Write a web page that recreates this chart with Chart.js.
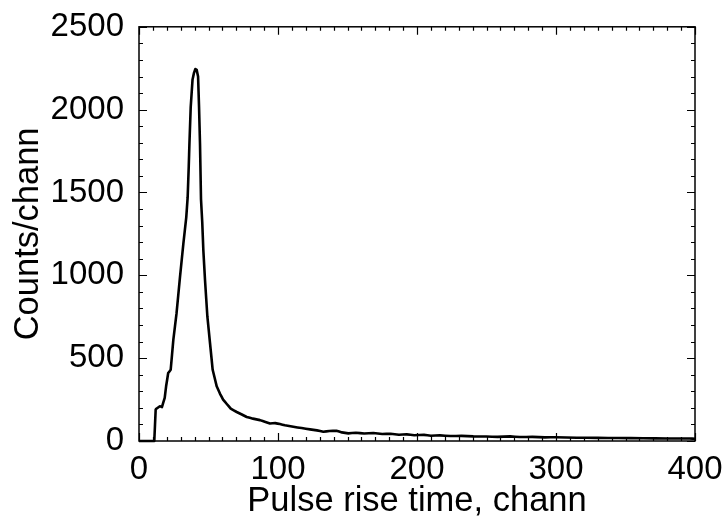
<!DOCTYPE html>
<html>
<head>
<meta charset="utf-8">
<script src="https://cdn.jsdelivr.net/npm/chart.js@4/dist/chart.umd.min.js"></script>
<style>
  html, body { margin: 0; padding: 0; background: #fff; }
  #wrap { width: 726px; height: 529px; }
</style>
</head>
<body>
<div id="wrap"><canvas id="riseChart" width="726" height="529"></canvas></div>
<script>
// rise time channel -> counts per channel
const channels = [0, 11, 12, 12.5, 15, 16.5, 18.5, 19.5, 21, 22.8, 24.7, 27, 29.5, 31.9, 34, 35, 35.8,
  36.3, 37.2, 38.5, 39.5, 40.5, 41.5, 42.5, 43.2, 43.9, 44.6, 45.5, 46.3, 47.5, 49.2, 51.1, 53, 55.9,
  58.3, 60.5, 63, 66, 70.3, 74, 77.5, 82, 87, 91, 94.2, 98, 101.4, 105, 111, 117, 123, 128, 132.6,
  137, 142, 146, 150.6, 156, 162, 168.6, 175, 181, 187, 192.6, 198, 205, 210, 216.5, 224, 232,
  240.5, 250, 258, 267, 274, 283, 292, 300, 315, 330, 345, 362.6, 380, 396, 400];
const counts = [0, 0, 190, 195, 210, 205, 260, 330, 410, 430, 610, 770, 990, 1190, 1350, 1470, 1660,
  1800, 2015, 2180, 2220, 2245, 2240, 2200, 2015, 1790, 1460, 1320, 1150, 970, 750, 590, 430, 330,
  285, 250, 225, 195, 175, 160, 145, 135, 126, 115, 106, 108, 102, 95, 86, 78, 70, 64, 56,
  60, 62, 52, 46, 50, 45, 48, 42, 44, 38, 40, 35, 37, 32, 34, 30, 31,
  28, 27, 25, 28, 24, 25, 22, 23, 20, 19, 18, 17, 15, 15, 14];

const xTicks = [0, 100, 200, 300, 400];
const yTicks = [0, 500, 1000, 1500, 2000, 2500];

const FONT = "'Liberation Sans', Arial, Helvetica, sans-serif";

// inward ticks on all four sides plus the frame
const frameTicks = {
  id: "frameTicks",
  afterDatasetsDraw(chart) {
    const { ctx, chartArea: a, scales: { x, y } } = chart;
    ctx.save();
    ctx.strokeStyle = "#000";
    ctx.lineWidth = 1.2;
    ctx.beginPath();
    for (let v = 0; v <= 400; v += 10) {
      const px = Math.round(x.getPixelForValue(v)) + 0.5;
      const len = v % 100 === 0 ? 8 : 4;
      ctx.moveTo(px, a.bottom); ctx.lineTo(px, a.bottom - len);
      ctx.moveTo(px, a.top); ctx.lineTo(px, a.top + len);
    }
    for (let v = 0; v <= 2500; v += 100) {
      const py = Math.round(y.getPixelForValue(v)) + 0.5;
      const len = v % 500 === 0 ? 8 : 4;
      ctx.moveTo(a.left, py); ctx.lineTo(a.left + len, py);
      ctx.moveTo(a.right, py); ctx.lineTo(a.right - len, py);
    }
    ctx.stroke();
    ctx.lineWidth = 1.5;
    ctx.strokeRect(a.left, a.top, a.right - a.left, a.bottom - a.top);
    ctx.restore();
  }
};

const ctx = document.getElementById("riseChart").getContext("2d");

new Chart(ctx, {
  type: "line",
  data: {
    datasets: [{
      data: channels.map((c, i) => ({ x: c, y: counts[i] })),
      borderColor: "#000",
      borderWidth: 2.6,
      borderJoinStyle: "round",
      pointRadius: 0,
      tension: 0.0001, // keeps the plain path renderer (no per-pixel min/max spikes)
      clip: 4
    }]
  },
  options: {
    responsive: false,
    animation: false,
    layout: { padding: { top: 24, right: 31, left: 0, bottom: 0 } },
    plugins: { legend: { display: false }, tooltip: { enabled: false } },
    scales: {
      x: {
        type: "linear",
        min: 0,
        max: 400,
        afterFit: (s) => { s.height = 88; },
        afterBuildTicks: (s) => { s.ticks = xTicks.map(v => ({ value: v })); },
        grid: { display: false },
        border: { display: false },
        ticks: {
          color: "#000", padding: 1, maxRotation: 0,
          font: { family: FONT, size: 33 },
          callback: (v) => String(v)
        },
        title: {
          display: true,
          text: "Pulse rise time, chann",
          color: "#000",
          font: { family: FONT, size: 34.5 },
          padding: { top: 0, bottom: 7 }
        }
      },
      y: {
        type: "linear",
        min: 0,
        max: 2500,
        afterFit: (s) => { s.width = 139; },
        afterBuildTicks: (s) => { s.ticks = yTicks.map(v => ({ value: v })); },
        grid: { display: false },
        border: { display: false },
        ticks: {
          color: "#000", padding: 7,
          font: { family: FONT, size: 33 },
          callback: (v) => String(v)
        },
        title: {
          display: true,
          text: "Counts/chann",
          color: "#000",
          font: { family: FONT, size: 34.5 },
          padding: { top: 8, bottom: 0 }
        }
      }
    }
  },
  plugins: [frameTicks]
});
</script>
</body>
</html>
